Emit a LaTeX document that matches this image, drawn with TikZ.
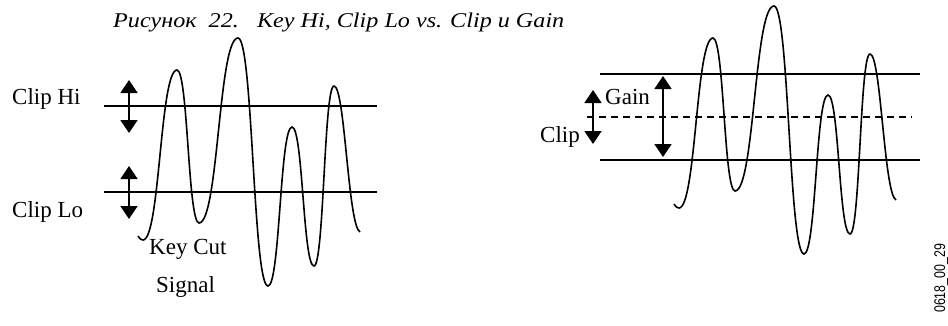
\documentclass[tikz,border=0pt]{standalone}
\usepackage{fontspec}
\setmainfont{Liberation Serif}
\setsansfont{Liberation Sans}
\usetikzlibrary{arrows.meta}

\tikzset{
    keywave/.pic={
        \draw[wave] (138,236) .. controls (140,239) and (141,240) .. (143,240)
            .. controls (160,240) and (160,70) .. (177,70)
            .. controls (188,70) and (188,223) .. (199,223)
            .. controls (218.5,223) and (218.5,38) .. (238,38)
            .. controls (253,38) and (253,286) .. (268,286)
            .. controls (280,286) and (280,127) .. (292,127)
            .. controls (303,127) and (303,266) .. (314,266)
            .. controls (324,266) and (324,86) .. (334,86)
            .. controls (345,86) and (348,226) .. (360,232);
    }
}

\begin{document}
\begin{tikzpicture}[
    x=1pt, y=-1pt,
    level/.style={line width=1.8pt},
    wave/.style={line width=1.6pt},
    dblarrow/.style={{Triangle[length=13pt,width=17pt]}-{Triangle[length=13pt,width=17pt]}, line width=1.6pt},
    lbl/.style={inner sep=0pt, anchor=base west, font=\fontsize{23}{27}\selectfont}
]
    \useasboundingbox (0,0) rectangle (948,325);
    % caption
    \node[lbl, font=\fontsize{21}{25}\selectfont\itshape] (caption) at (113,27) {\scalebox{1.15}[1]{Рисунок~~22.~~~Key Hi, Clip Lo vs. Clip и Gain}};
    % left: key hi / clip lo
    \coordinate (hiL) at (104,106);
    \coordinate (hiR) at (377,106);
    \coordinate (loL) at (104,192);
    \coordinate (loR) at (377,192);
    \draw[level] (hiL) -- (hiR);
    \draw[level] (loL) -- (loR);
    \coordinate (hiup) at (129,80);
    \coordinate (hidn) at (129,133);
    \coordinate (loup) at (129,166);
    \coordinate (lodn) at (129,219);
    \draw[dblarrow] (hiup) -- (hidn);
    \draw[dblarrow] (loup) -- (lodn);
    \node[lbl] (cliphi) at (12,104) {Clip Hi};
    \node[lbl] (cliplo) at (12,217) {Clip Lo};
    \node[lbl] (keycut) at (149,254) {Key Cut};
    \node[lbl] (signal) at (156,292) {Signal};
    \pic at (0,0) {keywave};
    % right: clip and gain
    \coordinate (topL) at (600,74);
    \coordinate (topR) at (920,74);
    \coordinate (botL) at (600,160);
    \coordinate (botR) at (920,160);
    \coordinate (midL) at (587,117);
    \coordinate (midR) at (912,117);
    \draw[level] (topL) -- (topR);
    \draw[level] (botL) -- (botR);
    \draw[line width=1.5pt, dash pattern=on 7pt off 5pt] (midL) -- (midR);
    \coordinate (clipup) at (593,90);
    \coordinate (clipdn) at (593,144);
    \coordinate (gainup) at (663,76);
    \coordinate (gaindn) at (663,157);
    \draw[dblarrow] (clipup) -- (clipdn);
    \draw[dblarrow] (gainup) -- (gaindn);
    \node[lbl] (gain) at (605,104) {Gain};
    \node[lbl] (clip) at (540,142) {Clip};
    \pic at (536,-32) {keywave};
    % figure id
    \node[inner sep=0pt, anchor=base west, rotate=90, font=\sffamily\fontsize{15.5}{18}\selectfont] (figid) at (945,313) {\scalebox{0.8}[1]{0618\_00\_29}};
\end{tikzpicture}
\end{document}
